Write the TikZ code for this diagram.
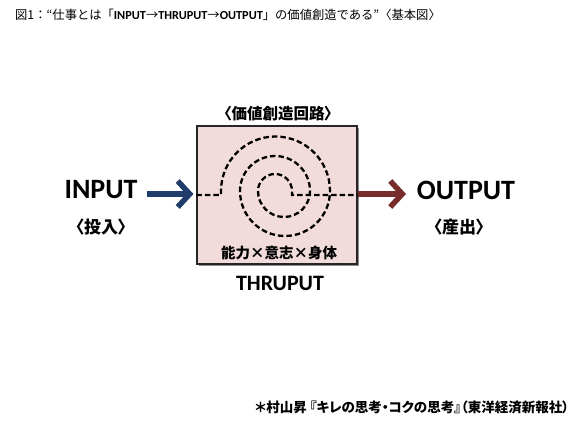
\documentclass[tikz,border=0pt]{standalone}
\usepackage{fontspec}
\setmainfont{Carlito}
\newfontfamily\jpfont{Noto Sans CJK JP}
\newfontfamily\jppfont[RawFeature=+palt]{Noto Sans CJK JP}
\newfontfamily\latinfont{Carlito}
\usetikzlibrary{arrows.meta}
\definecolor{boxfill}{HTML}{F2DCDB}
\definecolor{inblue}{HTML}{1F3C6B}
\definecolor{outred}{HTML}{772B2B}
\tikzset{
  boxstyle/.style={draw=black!85, line width=1.1pt, fill=boxfill, minimum width=160pt, minimum height=138pt, inner sep=0pt},
  shadowbox/.style={fill=black!45, minimum width=160pt, minimum height=138pt, inner sep=0pt, draw=none},
  bigword/.style={font=\latinfont\bfseries\fontsize{28}{30}\selectfont, inner sep=0pt},
  jplabel/.style={font=\jppfont\bfseries\fontsize{17}{19}\selectfont, inner sep=0pt},
  spiral/.style={line width=2.3pt, dash pattern=on 5.5pt off 3pt},
  inarrow/.style={draw=inblue, line width=5.5pt, -{Straight Barb[length=12pt,width=26pt]}},
  outarrow/.style={draw=outred, line width=5.5pt, -{Straight Barb[length=12pt,width=26pt]}}
}
\begin{document}
\begin{tikzpicture}[x=1pt,y=1pt]
\useasboundingbox[fill=white] (0,0) rectangle (580,431);
% title
\node[anchor=west, inner sep=0pt, font=\jpfont\fontsize{12.3}{14}\selectfont] (title) at (15,416)
  {図1：“仕事とは「{\latinfont\bfseries INPUT}→{\latinfont\bfseries THRUPUT}→{\latinfont\bfseries OUTPUT}」の価値創造である”〈基本図〉};
% box
\node[shadowbox] (shadow) at (279,234) {};
\node[boxstyle] (box) at (277,236) {};
\node[jplabel, font=\jppfont\bfseries\fontsize{15.5}{17}\selectfont] (circuit) at (278,317) {〈価値創造回路〉};
\node[jplabel, font=\jppfont\bfseries\fontsize{14.5}{16}\selectfont] (factors) at (279,178) {能力×意志×身体};
\node[bigword, font=\latinfont\bfseries\fontsize{22}{24}\selectfont] (thruput) at (280,148) {THRUPUT};
% spiral
\coordinate (sl) at (box.west);
\coordinate (sr) at (box.east);
\draw[spiral] (sl) -- (221,236) -- (221,240)
  arc[start angle=180, end angle=0, radius=54.5pt]
  arc[start angle=0, end angle=-180, radius=45pt]
  arc[start angle=180, end angle=0, radius=35pt]
  arc[start angle=0, end angle=-180, radius=26pt]
  arc[start angle=180, end angle=0, radius=17pt]
  -- (292,236) -- (sr);
% input / output
\node[bigword] (input) at (101,241) {INPUT};
\node[jplabel] (inputjp) at (101,204) {〈投入〉};
\node[bigword] (output) at (466,241) {OUTPUT};
\node[jplabel] (outputjp) at (459,204) {〈産出〉};
\coordinate (ain) at (147,237);
\coordinate (aout) at (406,237);
\draw[inarrow] (ain) -- ([xshift=-3pt]box.west |- ain);
\draw[outarrow] (box.east |- aout) -- (aout);
% footnote
\node[anchor=west, inner sep=0pt, font=\jppfont\bfseries\fontsize{13.5}{15}\selectfont] (foot) at (255,24)
  {＊村山昇 『キレの思考・コクの思考』（東洋経済新報社）};
\end{tikzpicture}
\end{document}
